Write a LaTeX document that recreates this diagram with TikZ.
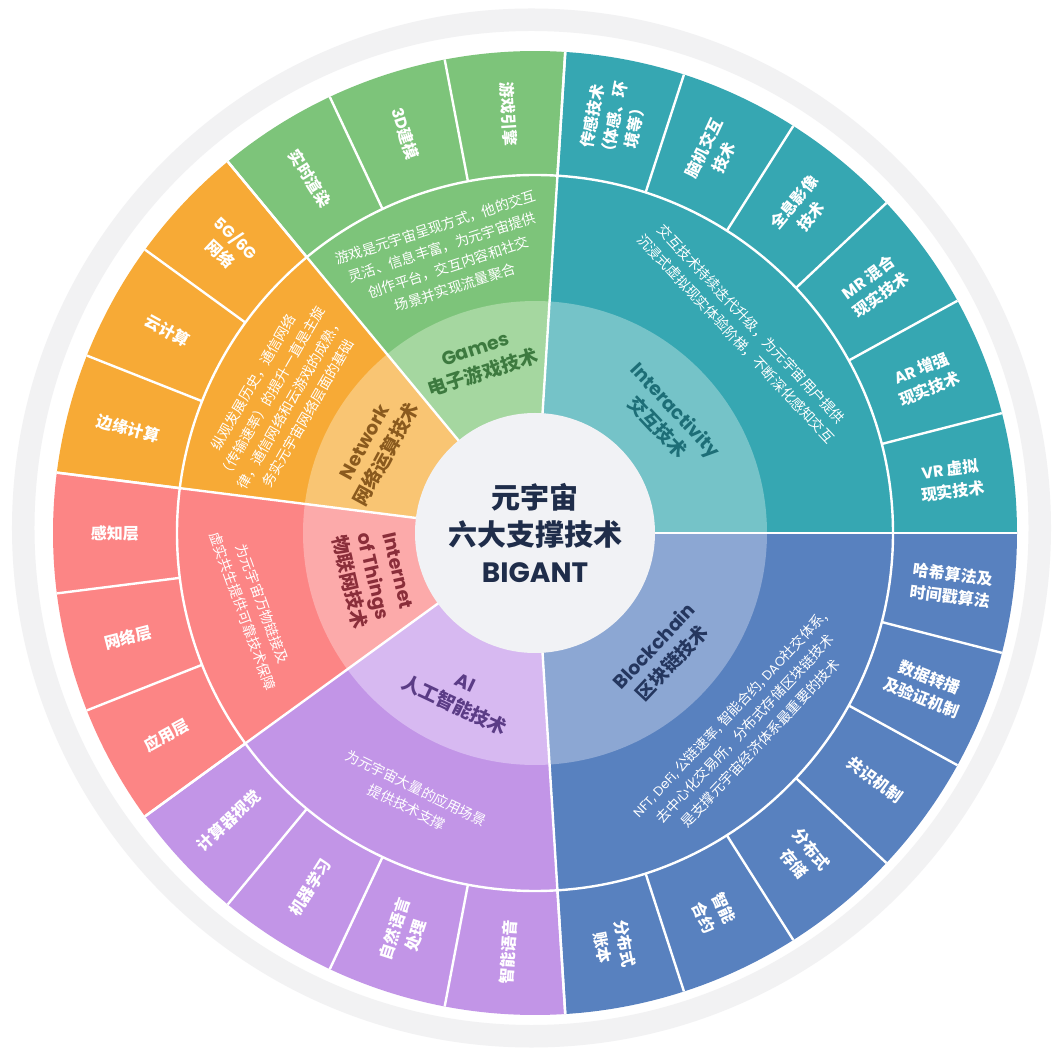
\documentclass[tikz,border=0pt]{standalone}
\usepackage{fontspec}
\setmainfont{Noto Sans CJK SC}
\newfontfamily\lat{Poppins}
\definecolor{tealM}{RGB}{54,167,178}
\definecolor{tealL}{RGB}{117,195,200}
\definecolor{greenM}{RGB}{125,196,122}
\definecolor{greenL}{RGB}{165,215,160}
\definecolor{orangeM}{RGB}{247,170,54}
\definecolor{orangeL}{RGB}{249,197,115}
\definecolor{redM}{RGB}{252,133,133}
\definecolor{redL}{RGB}{252,170,170}
\definecolor{purpleM}{RGB}{194,149,231}
\definecolor{purpleL}{RGB}{215,185,241}
\definecolor{blueM}{RGB}{88,129,191}
\definecolor{blueL}{RGB}{140,167,211}
\definecolor{centerC}{RGB}{241,242,245}
\definecolor{ringC}{RGB}{242,242,243}
\definecolor{navyT}{RGB}{31,45,74}
\definecolor{gamesT}{RGB}{61,122,63}
\definecolor{interT}{RGB}{29,110,119}
\definecolor{netT}{RGB}{138,90,30}
\definecolor{iotT}{RGB}{138,46,58}
\definecolor{aiT}{RGB}{91,60,134}
\definecolor{blockT}{RGB}{36,54,94}
\newcommand\wedgefill[4]{\fill[#1] (0,0) -- (#2:#4) arc[start angle=#2, end angle=#3, radius=#4] -- cycle;}
\newcommand\olab[4]{\node[outerlab, rotate=#3] (#1) at (#2:420) {#4};}
\begin{document}
\begin{tikzpicture}[x=1pt,y=1pt,
  sep/.style={white, line width=2.4pt},
  outerlab/.style={text=white, font=\fontsize{16}{22}\selectfont\bfseries, align=center, inner sep=0pt},
  desc/.style={text=white, font=\fontsize{14}{21}\selectfont, align=center, inner sep=0pt},
  ttl/.style={font=\fontsize{19}{25}\selectfont\bfseries, align=center, inner sep=0pt}]
\useasboundingbox (-535,-523) rectangle (517,533);
\fill[white] (-535,-523) rectangle (517,533);
% outer grey ring
\fill[ringC, even odd rule] (-3.5,5) circle[radius=519.5] (-3.5,5) circle[radius=497];
% main sectors
\wedgefill{tealM}{0}{86.4}{482}
\wedgefill{greenM}{86.4}{129.6}{482}
\wedgefill{orangeM}{129.6}{172.8}{482}
\wedgefill{redM}{172.8}{216}{482}
\wedgefill{purpleM}{216}{273.6}{482}
\wedgefill{blueM}{273.6}{360}{482}
% light inner ring
\wedgefill{tealL}{0}{86.4}{232}
\wedgefill{greenL}{86.4}{129.6}{232}
\wedgefill{orangeL}{129.6}{172.8}{232}
\wedgefill{redL}{172.8}{216}{232}
\wedgefill{purpleL}{216}{273.6}{232}
\wedgefill{blueL}{273.6}{360}{232}
% separators
\draw[sep] (0,0) circle[radius=358];
\foreach \i in {1,...,25} \draw[sep] ({\i*14.4}:358) -- ({\i*14.4}:482);
\foreach \a in {0,86.4,129.6,172.8,216,273.6} \draw[sep] (\a:118) -- (\a:482);
% centre
\fill[centerC] (0,0) circle[radius=120];
\node[text=navyT, font=\fontsize{29}{37}\selectfont\bfseries, align=center] (center) at (0,0) {元宇宙\\六大支撑技术\\{\lat\fontsize{28}{37}\selectfont BIGANT}};
% outer labels: Interactivity
\olab{oi1}{79.2}{79.2}{传感技术\\（体感、环\\境等）}
\olab{oi2}{64.8}{64.8}{脑机交互\\技术}
\olab{oi3}{50.4}{50.4}{全息影像\\技术}
\olab{oi4}{36}{36}{{\lat MR} 混合\\现实技术}
\olab{oi5}{21.6}{21.6}{{\lat AR} 增强\\现实技术}
\olab{oi6}{7.2}{7.2}{{\lat VR} 虚拟\\现实技术}
% Games
\olab{og1}{93.6}{-86.4}{游戏引擎}
\olab{og2}{108}{-72}{{\lat 3D}建模}
\olab{og3}{122.4}{-57.6}{实时渲染}
% Network
\olab{on1}{136.8}{-43.2}{{\lat 5G/6G}\\网络}
\olab{on2}{151.2}{-28.8}{云计算}
\olab{on3}{165.6}{-14.4}{边缘计算}
% IoT
\olab{ot1}{180}{0}{感知层}
\olab{ot2}{194.4}{14.4}{网络层}
\olab{ot3}{208.8}{28.8}{应用层}
% AI
\olab{oa1}{223.2}{43.2}{计算器视觉}
\olab{oa2}{237.6}{57.6}{机器学习}
\olab{oa3}{252}{72}{自然语言\\处理}
\olab{oa4}{266.4}{86.4}{智能语音}
% Blockchain
\olab{ob1}{-7.2}{-7.2}{哈希算法及\\时间戳算法}
\olab{ob2}{-21.6}{-21.6}{数据转播\\及验证机制}
\olab{ob3}{-36}{-36}{共识机制}
\olab{ob4}{-50.4}{-50.4}{分布式\\存储}
\olab{ob5}{-64.8}{-64.8}{智能\\合约}
\olab{ob6}{-79.2}{-79.2}{分布式\\账本}
% descriptions
\node[desc, rotate=18] (dg) at (108:290) {游戏是元宇宙呈现方式，他的交互\\灵活、信息丰富，为元宇宙提供\\创作平台，交互内容和社交\\场景并实现流量聚合};
\node[desc, rotate=-46.8] (di) at (44:290) {交互技术持续迭代升级，为元宇宙用户提供\\沉浸式虚拟现实体验阶梯，不断深化感知交互};
\node[desc, rotate=60] (dn) at (152:288) {纵观发展历史，通信网络\\（传输速率）的提升一直是主旋\\律，通信网络和云游戏的成熟，\\务实元宇宙网络层面的基础};
\node[desc, rotate=-70] (dt) at (194.8:292) {为元宇宙万物链接及\\虚实共生提供可靠技术保障};
\node[desc, rotate=-26] (da) at (245:292) {为元宇宙大量的应用场景\\提供技术支撑};
\node[desc, rotate=46.8] (db) at (-43:287) {{\lat\fontsize{13}{21}\selectfont NFT, DeFi,} 公链速率, 智能合约, {\lat\fontsize{13}{21}\selectfont DAO}社交体系,\\去中心化交易所，分布式存储区块链技术\\是支撑元宇宙经济体系最重要的技术};
% titles
\node[ttl, text=gamesT, rotate=18] (tg) at (108:180) {{\lat Games}\\电子游戏技术};
\node[ttl, text=interT, rotate=-46.8] (ti) at (41:174) {{\lat Interactivity}\\交互技术};
\node[ttl, text=netT, rotate=61.2] (tn) at (152:180) {{\lat Network}\\网络运算技术};
\node[ttl, text=iotT, rotate=-77] (tt) at (195:168) {{\lat Internet}\\{\lat of Things}\\物联网技术};
\node[ttl, text=aiT, rotate=-25.2] (ta) at (245:179) {{\lat AI}\\人工智能技术};
\node[ttl, text=blockT, rotate=46.8] (tb) at (-43.5:177) {{\lat Blockchain}\\区块链技术};
\end{tikzpicture}
\end{document}
